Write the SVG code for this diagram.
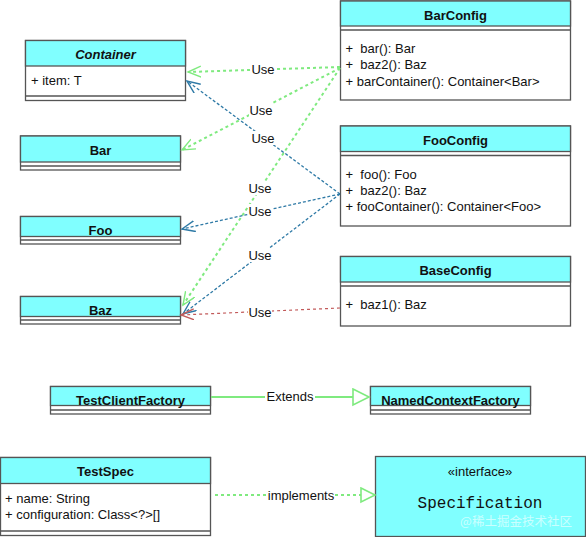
<svg xmlns="http://www.w3.org/2000/svg" width="586" height="537" viewBox="0 0 586 537">
<style>
.box{fill:#ffffff;stroke:#555555;stroke-width:1.3}
.hd{fill:#80ffff;stroke:#555555;stroke-width:1.3}
.sep{stroke:#555555;stroke-width:1.3}
.t{font-family:"Liberation Sans",Arial,sans-serif;font-size:13px;font-weight:bold;fill:#111;text-anchor:middle}
.a{font-family:"Liberation Sans",Arial,sans-serif;font-size:13px;fill:#111}
.lbl{font-family:"Liberation Sans",Arial,sans-serif;font-size:13px;fill:#111;text-anchor:middle}
.lb{fill:#ffffff;stroke:none}
.g{fill:none;stroke:#7fea7f;stroke-width:2;stroke-dasharray:3 3}
.b{fill:none;stroke:#2f7aa6;stroke-width:1.3;stroke-dasharray:3 2}
.r{fill:none;stroke:#c25a5a;stroke-width:1.2;stroke-dasharray:3 3}
.gs{fill:none;stroke:#7fea7f;stroke-width:2}
</style>
<defs>
<marker id="vg" markerUnits="userSpaceOnUse" markerWidth="16" markerHeight="14" refX="13" refY="6" orient="auto">
<path d="M0,0.5 L13,6 L0,11.5" fill="none" stroke="#7fea7f" stroke-width="1.4"/>
</marker>
<marker id="vb" markerUnits="userSpaceOnUse" markerWidth="16" markerHeight="14" refX="13" refY="6" orient="auto">
<path d="M0,0.5 L13,6 L0,11.5" fill="none" stroke="#2f7aa6" stroke-width="1.4"/>
</marker>
<marker id="vr" markerUnits="userSpaceOnUse" markerWidth="16" markerHeight="14" refX="13" refY="6" orient="auto">
<path d="M0,0.5 L13,6 L0,11.5" fill="none" stroke="#c25a5a" stroke-width="1.4"/>
</marker>
<marker id="tri" markerUnits="userSpaceOnUse" markerWidth="20" markerHeight="20" refX="17" refY="9" orient="auto">
<path d="M1,1 L17,9 L1,17 Z" fill="#ffffff" stroke="#7fea7f" stroke-width="1.6"/>
</marker>
<marker id="tri2" markerUnits="userSpaceOnUse" markerWidth="18" markerHeight="18" refX="15" refY="8" orient="auto">
<path d="M1,1 L15,8 L1,15 Z" fill="#ffffff" stroke="#7fea7f" stroke-width="1.6"/>
</marker>
</defs>

<g id="container">
<rect class="box" x="25.5" y="40.5" width="160" height="60"/>
<rect class="hd" x="25.5" y="40.5" width="160" height="25.5"/>
<line class="sep" x1="25.5" y1="96" x2="185.5" y2="96"/>
<text class="t" x="105.5" y="58.5" font-style="italic">Container</text>
<text class="a" x="31" y="85">+ item: T</text>
</g>

<g id="bar">
<rect class="box" x="20.5" y="136" width="160" height="34"/>
<rect class="hd" x="20.5" y="136" width="160" height="26"/>
<line class="sep" x1="20.5" y1="166" x2="180.5" y2="166"/>
<text class="t" x="100.5" y="155">Bar</text>
</g>

<g id="foo">
<rect class="box" x="20.5" y="216.5" width="160" height="27.5"/>
<rect class="hd" x="20.5" y="216.5" width="160" height="20"/>
<line class="sep" x1="20.5" y1="240" x2="180.5" y2="240"/>
<text class="t" x="100.5" y="235">Foo</text>
</g>

<g id="baz">
<rect class="box" x="20.5" y="296.5" width="160" height="27.5"/>
<rect class="hd" x="20.5" y="296.5" width="160" height="20"/>
<line class="sep" x1="20.5" y1="320" x2="180.5" y2="320"/>
<text class="t" x="100.5" y="315">Baz</text>
</g>

<g id="barConfig">
<rect class="box" x="340.5" y="1" width="230" height="99"/>
<rect class="hd" x="340.5" y="1" width="230" height="25"/>
<line class="sep" x1="340.5" y1="30" x2="570.5" y2="30"/>
<text class="t" x="455.5" y="19.5">BarConfig</text>
<text class="a" x="345.5" y="52.5" xml:space="preserve">+  bar(): Bar</text>
<text class="a" x="345.5" y="68.5" xml:space="preserve">+  baz2(): Baz</text>
<text class="a" x="345.5" y="85.5">+ barContainer(): Container&lt;Bar&gt;</text>
</g>

<g id="fooConfig">
<rect class="box" x="340.5" y="126" width="230" height="100"/>
<rect class="hd" x="340.5" y="126" width="230" height="25.5"/>
<line class="sep" x1="340.5" y1="155.5" x2="570.5" y2="155.5"/>
<text class="t" x="455.5" y="145">FooConfig</text>
<text class="a" x="345.5" y="179" xml:space="preserve">+  foo(): Foo</text>
<text class="a" x="345.5" y="195" xml:space="preserve">+  baz2(): Baz</text>
<text class="a" x="345.5" y="211">+ fooContainer(): Container&lt;Foo&gt;</text>
</g>

<g id="baseConfig">
<rect class="box" x="340.5" y="256.5" width="230" height="69.5"/>
<rect class="hd" x="340.5" y="256.5" width="230" height="25.5"/>
<line class="sep" x1="340.5" y1="286" x2="570.5" y2="286"/>
<text class="t" x="455.5" y="274.5">BaseConfig</text>
<text class="a" x="345.5" y="309" xml:space="preserve">+  baz1(): Baz</text>
</g>

<g id="testClientFactory">
<rect class="box" x="50.5" y="386.5" width="160" height="27.5"/>
<rect class="hd" x="50.5" y="386.5" width="160" height="19"/>
<line class="sep" x1="50.5" y1="410" x2="210.5" y2="410"/>
<text class="t" x="130.5" y="405">TestClientFactory</text>
</g>

<g id="namedContextFactory">
<rect class="box" x="370.5" y="386.5" width="160" height="27.5"/>
<rect class="hd" x="370.5" y="386.5" width="160" height="19"/>
<line class="sep" x1="370.5" y1="410" x2="530.5" y2="410"/>
<text class="t" x="450.5" y="405">NamedContextFactory</text>
</g>

<g id="testSpec">
<rect class="box" x="0.5" y="457.5" width="210" height="78"/>
<rect class="hd" x="0.5" y="457.5" width="210" height="26"/>
<line class="sep" x1="0.5" y1="531" x2="210.5" y2="531"/>
<text class="t" x="105.5" y="476">TestSpec</text>
<text class="a" x="5" y="503">+ name: String</text>
<text class="a" x="5" y="519">+ configuration: Class&lt;?&gt;[]</text>
</g>

<g id="specification">
<rect class="hd" x="375.5" y="456.5" width="210" height="80"/>
<text x="480" y="475.5" font-family="'Liberation Sans',Arial,sans-serif" font-size="13" fill="#111" text-anchor="middle">«interface»</text>
<text x="480" y="508" font-family="'Liberation Mono','Courier New',monospace" font-size="16" fill="#111" text-anchor="middle">Specification</text>
</g>

<g id="connectors">
<path class="g" d="M340,67 L188,72" marker-end="url(#vg)"/>
<path class="g" d="M340,68 L182,150" marker-end="url(#vg)"/>
<path class="g" d="M340,68 L183,305" marker-end="url(#vg)"/>
<path class="b" d="M340,194 L187,81" marker-end="url(#vb)"/>
<path class="b" d="M340,194 L182,229" marker-end="url(#vb)"/>
<path class="b" d="M340,194 L183,314" marker-end="url(#vb)"/>
<path class="r" d="M340,308 L181,315" marker-end="url(#vr)"/>
<path class="gs" d="M211,397 L369,397" marker-end="url(#tri)"/>
<path class="g" d="M215,495 L375,495" marker-end="url(#tri2)"/>

<rect class="lb" x="251" y="62" width="24" height="14"/>
<text class="lbl" x="263" y="73.5">Use</text>
<rect class="lb" x="249" y="103" width="24" height="14"/>
<text class="lbl" x="261" y="114.5">Use</text>
<rect class="lb" x="251" y="131" width="24" height="14"/>
<text class="lbl" x="263" y="142.5">Use</text>
<rect class="lb" x="248" y="181" width="24" height="14"/>
<text class="lbl" x="260" y="192.5">Use</text>
<rect class="lb" x="248" y="204" width="24" height="14"/>
<text class="lbl" x="260" y="215.5">Use</text>
<rect class="lb" x="248" y="248" width="24" height="14"/>
<text class="lbl" x="260" y="259.5">Use</text>
<rect class="lb" x="248" y="305" width="24" height="14"/>
<text class="lbl" x="260" y="316.5">Use</text>
<rect class="lb" x="265" y="389" width="50" height="14"/>
<text class="lbl" x="290" y="400.5">Extends</text>
<rect class="lb" x="268" y="488" width="66" height="14"/>
<text class="lbl" x="301" y="499.5">implements</text>
</g>

<text x="516" y="526" font-family="'Noto Sans CJK SC','Liberation Sans',sans-serif" font-size="12.5" fill="#ffffff" fill-opacity="0.6" text-anchor="middle">@稀土掘金技术社区</text>
</svg>
